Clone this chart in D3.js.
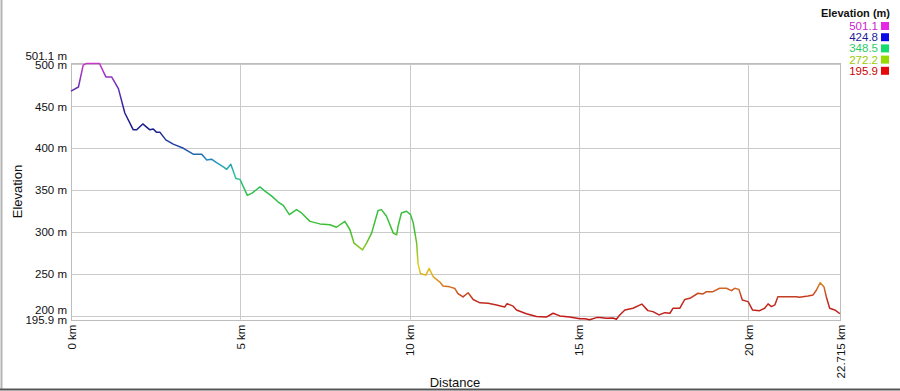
<!DOCTYPE html>
<html>
<head>
<meta charset="utf-8">
<script src="https://cdn.jsdelivr.net/npm/d3@7"></script>
<style>
  body { margin: 0; background: #fff; }
  svg { display: block; font-family: "Liberation Sans", Arial, sans-serif; }
</style>
</head>
<body>
<svg id="profile" width="900" height="391"></svg>
<script>
// distance along track (km) and elevation (m)
const distanceKm = [0, 0.22, 0.36, 0.46, 0.84, 1.03, 1.2, 1.4, 1.59, 1.84, 1.94, 2.12, 2.33, 2.43, 2.53, 2.63,
  2.8, 3.02, 3.32, 3.61, 3.86, 4.01, 4.15, 4.3, 4.5, 4.6, 4.72, 4.87, 4.99, 5.21, 5.36, 5.58, 5.73, 5.93,
  6.12, 6.27, 6.45, 6.66, 6.81, 7.06, 7.35, 7.65, 7.84, 8.09, 8.24, 8.36, 8.61, 8.73, 8.88, 9.07, 9.17,
  9.32, 9.52, 9.62, 9.66, 9.76, 9.91, 10.03, 10.11, 10.21, 10.25, 10.32, 10.48, 10.58, 10.7, 10.89, 10.99,
  11.19, 11.34, 11.43, 11.58, 11.73, 11.88, 12.08, 12.32, 12.57, 12.81, 12.88, 13.06, 13.16, 13.45, 13.75,
  14.04, 14.24, 14.44, 14.73, 15.03, 15.18, 15.32, 15.52, 15.62, 15.82, 16.01, 16.11, 16.21, 16.36, 16.6,
  16.86, 17.04, 17.19, 17.37, 17.54, 17.69, 17.78, 17.98, 18.13, 18.28, 18.52, 18.67, 18.77, 18.96, 19.16,
  19.36, 19.51, 19.6, 19.73, 19.83, 20.0, 20.13, 20.34, 20.49, 20.59, 20.69, 20.79, 20.88, 21.13, 21.43,
  21.52, 21.77, 21.92, 22.02, 22.13, 22.24, 22.31, 22.41, 22.56, 22.715];
const elevationM = [468, 473, 499, 501.1, 501.1, 485, 485, 471, 442, 422, 422, 429, 422, 423, 419, 419,
  410, 405, 400, 393, 393, 386, 387, 383, 378, 375, 381, 364, 363, 344, 347, 354, 349, 343,
  336, 332, 321, 327, 323, 313, 310, 309, 306, 313, 303, 287, 279, 287, 299, 326, 327,
  319, 299, 297, 307, 323, 325, 321, 311, 287, 263, 251, 249, 257, 247, 241, 236,
  235, 233, 227, 223, 228, 220, 216, 215.5, 213.5, 211, 215, 212, 207.5, 203, 199.6,
  199, 203.6, 200.4, 199, 197, 197, 195.9, 198.4, 198.4, 197.6, 198, 196.4, 201.6, 207.5, 209.5,
  214.5, 206.7, 205.5, 201.6, 204.3, 203.6, 209.5, 209.5, 220, 221.4, 227.4, 226.6, 229.3, 229.3, 233.3,
  233.3, 230.5, 233.3, 232, 219.4, 217.4, 207.5, 206.7, 209.5, 214.7, 211.5, 213.5, 223.3, 223.3, 223.3,
  222.6, 224.2, 225.4, 231.3, 240, 235.2, 223.3, 209.5, 207.5, 203];

const xTicks = [0, 5, 10, 15, 20, 22.715];
const yTicks = [195.9, 200, 250, 300, 350, 400, 450, 500, 501.1];

// legend classes (elevation in m)
const legendValues = [501.1, 424.8, 348.5, 272.2, 195.9];
const legendText = ['#cc22cc', '#1e1e9a', '#2ecc66', '#99cc00', '#cc0000'];
const legendSwatch = ['#e628e6', '#0a0ae6', '#14dc6e', '#96dc00', '#e60a0a'];

// line colour along elevation
const colorStops = [195.9, 220, 232, 245, 260, 275, 300, 350, 370, 385, 400, 424.8, 440, 470, 501.1];
const colorRange = ['#c01818', '#c03020', '#d06020', '#e0a020', '#e0d020', '#a0c820', '#40c030',
  '#30c050', '#30c0a0', '#2090c0', '#2448a8', '#1a1a8c', '#202090', '#6030b0', '#c838c8'];

const svg = d3.select('#profile');
const plotLeft = 71, plotRight = 840, plotTop = 63.4, plotBottom = 319.7;

const x = d3.scaleLinear().domain([0, 22.715]).range([plotLeft, plotRight]);
const y = d3.scaleLinear().domain([195.9, 501.1]).range([plotBottom, plotTop]);
const color = d3.scaleLinear().domain(colorStops).range(colorRange);

// outer frame: left and bottom edges
svg.append('line').attr('x1', 1.5).attr('x2', 1.5).attr('y1', 0).attr('y2', 389)
  .attr('stroke', '#b4b4b4').attr('stroke-width', 2);
svg.append('line').attr('x1', 0).attr('x2', 900).attr('y1', 389.5).attr('y2', 389.5)
  .attr('stroke', '#555').attr('stroke-width', 2);

// grid
const grid = svg.append('g').attr('stroke', '#cacaca').attr('stroke-width', 1);
grid.selectAll('.gy')
  .data([200, 250, 300, 350, 400, 450, 500])
  .enter()
  .append('line')
  .attr('x1', plotLeft).attr('x2', plotRight)
  .attr('y1', (d) => Math.round(y(d)) + 0.5)
  .attr('y2', (d) => Math.round(y(d)) + 0.5);
grid.selectAll('.gx')
  .data([5, 10, 15, 20])
  .enter()
  .append('line')
  .attr('y1', plotTop).attr('y2', plotBottom)
  .attr('x1', (d) => Math.round(x(d)) + 0.5)
  .attr('x2', (d) => Math.round(x(d)) + 0.5);

svg.append('rect')
  .attr('x', plotLeft + 0.5).attr('y', Math.round(plotTop) + 0.5)
  .attr('width', plotRight - plotLeft).attr('height', Math.round(plotBottom) - Math.round(plotTop))
  .attr('fill', 'none').attr('stroke', '#bdbdbd');

// y axis labels
const yShift = { 200: -6, 501.1: -8 };
const leftAxis = d3.axisLeft(y)
  .tickValues(yTicks)
  .tickSize(0)
  .tickPadding(4)
  .tickFormat((d) => d + ' m');
const gy = svg.append('g').attr('transform', `translate(${plotLeft}, 0)`).call(leftAxis);
gy.select('.domain').remove();
gy.selectAll('text')
  .attr('font-size', 11.5)
  .attr('font-family', '"Liberation Sans", Arial, sans-serif')
  .attr('fill', '#111')
  .attr('y', (d) => yShift[d] || 0);

// x axis labels, rotated
const bottomAxis = d3.axisBottom(x)
  .tickValues(xTicks)
  .tickSize(0)
  .tickFormat((d) => d + ' km');
const gx = svg.append('g').attr('transform', `translate(0, ${plotBottom})`).call(bottomAxis);
gx.select('.domain').remove();
gx.selectAll('text')
  .attr('font-size', 11.5)
  .attr('font-family', '"Liberation Sans", Arial, sans-serif')
  .attr('fill', '#111')
  .attr('text-anchor', 'end')
  .attr('transform', 'rotate(-90)')
  .attr('x', -5)
  .attr('y', 0)
  .attr('dy', '0.35em');

// axis titles
svg.append('text')
  .text('Elevation')
  .attr('transform', `translate(22, ${(plotTop + plotBottom) / 2}) rotate(-90)`)
  .attr('text-anchor', 'middle')
  .attr('font-size', 13)
  .attr('fill', '#111');
svg.append('text')
  .text('Distance')
  .attr('x', 455).attr('y', 387)
  .attr('text-anchor', 'middle')
  .attr('font-size', 13)
  .attr('fill', '#111');

// gradient coloured by elevation
const grad = svg.append('defs').append('linearGradient')
  .attr('id', 'elevGrad')
  .attr('gradientUnits', 'userSpaceOnUse')
  .attr('x1', 0).attr('x2', 0)
  .attr('y1', y(195.9)).attr('y2', y(501.1));
grad.selectAll('stop')
  .data(colorStops)
  .enter()
  .append('stop')
  .attr('offset', (d) => (d - 195.9) / (501.1 - 195.9))
  .attr('stop-color', (d) => color(d));

const profile = distanceKm.map((d, i) => [d, elevationM[i]]);
const line = d3.line()
  .x((d) => x(d[0]))
  .y((d) => y(d[1]));
svg.append('path')
  .datum(profile)
  .attr('d', line)
  .attr('fill', 'none')
  .attr('stroke', 'url(#elevGrad)')
  .attr('stroke-width', 1.5)
  .attr('stroke-linejoin', 'round');

// legend
svg.append('text')
  .text('Elevation (m)')
  .attr('x', 890).attr('y', 17)
  .attr('text-anchor', 'end')
  .attr('font-size', 11)
  .attr('font-weight', 'bold')
  .attr('fill', '#111');
const legend = svg.append('g')
  .selectAll('g')
  .data(legendValues)
  .enter()
  .append('g')
  .attr('transform', (d, i) => `translate(0, ${30 + i * 11.2})`);
legend.append('text')
  .text((d) => d.toFixed(1))
  .attr('x', 878).attr('y', 0)
  .attr('text-anchor', 'end')
  .attr('font-size', 11.5)
  .attr('fill', (d, i) => legendText[i]);
legend.append('rect')
  .attr('x', 881).attr('y', -8)
  .attr('width', 8).attr('height', 8)
  .attr('fill', (d, i) => legendSwatch[i]);
</script>
</body>
</html>
